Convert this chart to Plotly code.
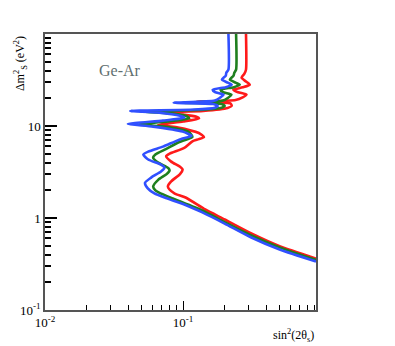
import plotly.graph_objects as go

# sin^2(2theta_s) / delta m^2 (eV^2), top to bottom
blue_x = [0.213, 0.213, 0.2056, 0.2039, 0.191, 0.2108, 0.225, 0.204, 0.164, 0.1703,
          0.1964, 0.185, 0.17, 0.0855, 0.165, 0.178, 0.17, 0.12, 0.0414, 0.065,
          0.095, 0.102, 0.0714, 0.0398, 0.0607, 0.0992, 0.115, 0.0992, 0.087, 0.0714,
          0.0559, 0.0515, 0.0559, 0.0692, 0.0734, 0.0692, 0.0587, 0.053, 0.0555, 0.062,
          0.075, 0.10, 0.138, 0.2, 0.312, 0.5, 0.917]
blue_y = [100, 41, 38, 35.3, 31.9, 29.6, 28.1, 26.45, 24.8, 23.3,
          21.9, 20.3, 18.9, 17.9, 17.3, 16.5, 15.8, 15.1, 14.6, 14.0,
          12.9, 12.3, 11.44, 10.5, 9.85, 8.69, 7.81, 7.30, 6.77, 5.97,
          5.27, 4.89, 4.32, 3.81, 3.51, 3.20, 2.75, 2.41, 2.1, 1.85,
          1.65, 1.42, 1.15, 0.87, 0.614, 0.455, 0.337]

green_x = [0.242, 0.242, 0.235, 0.232, 0.218, 0.240, 0.257, 0.233, 0.187, 0.194,
           0.224, 0.212, 0.195, 0.099, 0.19, 0.2, 0.19, 0.14, 0.0488, 0.075,
           0.105, 0.1107, 0.08, 0.048, 0.075, 0.11, 0.1168, 0.105, 0.094, 0.075,
           0.063, 0.0607, 0.066, 0.078, 0.0798, 0.076, 0.066, 0.0607, 0.063, 0.067,
           0.0842, 0.1376, 0.2, 0.312, 0.5, 0.917]
green_y = [100, 41, 38, 35.3, 31.9, 29.6, 28.1, 26.45, 24.8, 23.3,
           21.9, 20.3, 18.9, 17.9, 17.3, 16.5, 15.8, 15.0, 14.35, 13.9,
           12.9, 12.1, 11.3, 10.4, 9.8, 8.6, 7.6, 7.1, 6.7, 5.6,
           4.9, 4.5, 4.0, 3.5, 3.3, 3.0, 2.6, 2.2, 2.0, 1.89,
           1.63, 1.206, 0.9, 0.646, 0.479, 0.35]

red_x = [0.2855, 0.2855, 0.278, 0.265, 0.285, 0.304, 0.27, 0.231, 0.25, 0.288,
         0.27, 0.24, 0.125, 0.22, 0.225, 0.21, 0.14, 0.0695, 0.10, 0.125,
         0.1304, 0.10, 0.0658, 0.09, 0.13, 0.1416, 0.13, 0.1168, 0.102, 0.08,
         0.0754, 0.082, 0.095, 0.0992, 0.095, 0.082, 0.0776, 0.0797, 0.087, 0.1042,
         0.1446, 0.2, 0.312, 0.5, 0.917]
red_y = [100, 41, 37, 33.5, 30.5, 28.1, 26.3, 24.8, 23.3, 21.9,
         20.5, 19.2, 18.3, 17.6, 16.6, 15.7, 14.6, 14.0, 13.3, 12.6,
         12.1, 11.2, 10.3, 9.7, 8.4, 7.6, 7.2, 6.82, 5.78, 5.0,
         4.69, 4.1, 3.6, 3.36, 3.0, 2.5, 2.21, 2.04, 1.845, 1.67,
         1.237, 0.963, 0.679, 0.494, 0.363]

serif = "Liberation Serif, Times New Roman, serif"

fig = go.Figure()
for xs, ys, col in [(red_x, red_y, "#ff1a1a"), (green_x, green_y, "#1f7f1f"),
                    (blue_x, blue_y, "#3050ff")]:
    fig.add_trace(go.Scatter(x=xs, y=ys, mode="lines",
                             line=dict(color=col, width=2.6, shape="spline", smoothing=0.6),
                             showlegend=False))

fig.update_xaxes(type="log", range=[-2, -0.0375],
                 tickvals=[0.01, 0.1], ticktext=["10<sup>-2</sup>", "10<sup>-1</sup>"],
                 ticks="inside", ticklen=9, tickwidth=1.2, tickcolor="black",
                 minor=dict(ticks="inside", ticklen=5, dtick="D1", tickcolor="black"),
                 showline=True, linecolor="#555555", linewidth=1.5, mirror=True,
                 showgrid=False, zeroline=False,
                 tickfont=dict(family=serif, size=13, color="black"))
fig.update_yaxes(type="log", range=[-1, 2],
                 tickvals=[0.1, 1, 10], ticktext=["10<sup>-1</sup>", "1", "10"],
                 ticks="inside", ticklen=12, tickwidth=1.5, tickcolor="black",
                 minor=dict(ticks="inside", ticklen=6, dtick="D1", tickcolor="black"),
                 showline=True, linecolor="#555555", linewidth=1.5, mirror=True,
                 showgrid=False, zeroline=False,
                 tickfont=dict(family=serif, size=13, color="black"))

fig.add_annotation(text="Ge-Ar", xref="paper", yref="paper", x=0.275, y=0.867,
                   xanchor="center", yanchor="middle",
                   showarrow=False, font=dict(family=serif, size=16, color="#5f6f6f"))
fig.add_annotation(text="sin<sup>2</sup>(2θ<sub>s</sub>)", xref="paper", yref="paper",
                   x=1.0, y=-0.055, xanchor="right", yanchor="top", showarrow=False,
                   font=dict(family=serif, size=12, color="black"))
fig.add_annotation(text="Δm<sup>2</sup><sub>S</sub> (eV<sup>2</sup>)", xref="paper", yref="paper",
                   x=-0.09, y=1.0, xanchor="center", yanchor="top", textangle=-90,
                   showarrow=False, font=dict(family=serif, size=12, color="black"))

# page body adds an 8px offset, so the figure is drawn a little smaller
fig.update_layout(width=387, height=338, margin=dict(l=32, r=79, t=26, b=36),
                  paper_bgcolor="white", plot_bgcolor="white")

fig.write_html("out.html")
